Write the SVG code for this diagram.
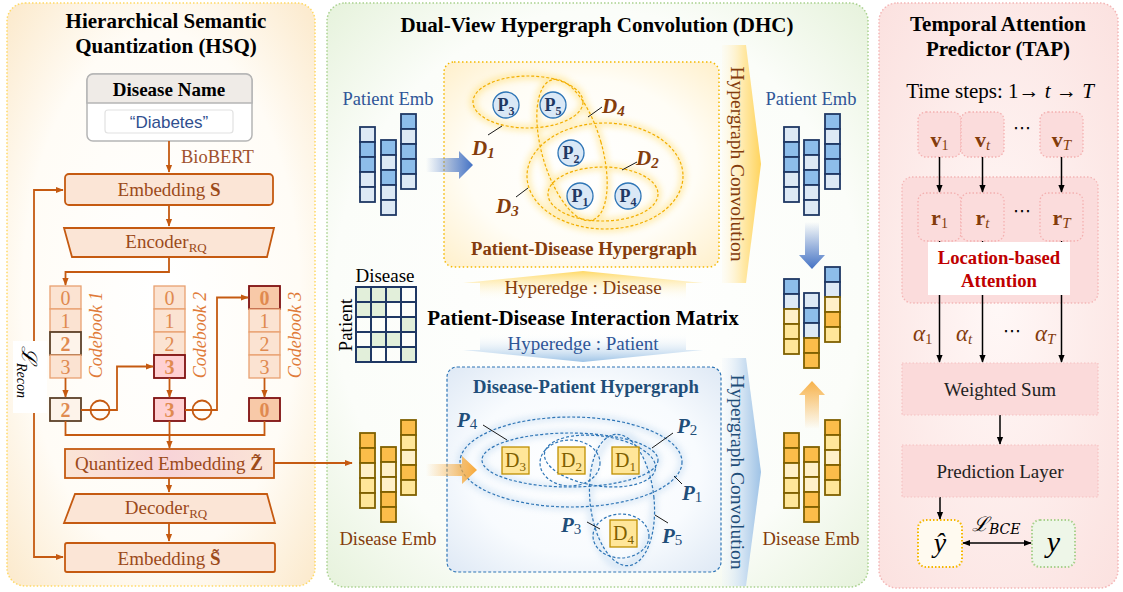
<svg xmlns="http://www.w3.org/2000/svg" width="1123" height="592" viewBox="0 0 1123 592">
<style>
text{font-family:"Liberation Serif","Times New Roman",serif}
.ttl{font-size:21px;font-weight:bold;fill:#000;text-anchor:middle}
.lbl{font-size:19px;fill:#9c4a1a;text-anchor:middle}
.box{fill:#fbe5d6;stroke:#c55a11;stroke-width:1.8}
.cn{fill:none;stroke:#c55a11;stroke-width:1.8}
.cell{fill:#fbe3d2;stroke:#e8a070;stroke-width:1.3}
.dig{font-size:20px;fill:#e08a50;text-anchor:middle}
.cb{font-size:18px;font-style:italic;fill:#e07b39;text-anchor:middle}
.pb{fill:#8dbdea;stroke:#1f3864;stroke-width:1.8}
.pl{fill:#dde9f5;stroke:#1f3864;stroke-width:1.8}
.do{fill:#fbbd4a;stroke:#7f6000;stroke-width:1.8}
.dl{fill:#ffe699;stroke:#7f6000;stroke-width:1.8}
.dv{fill:#fff0c8;stroke:#7f6000;stroke-width:1.8}
.he{fill:none;stroke:#f2ae00;stroke-width:1.2;stroke-dasharray:3 2}
.hb{fill:none;stroke:#2e75b6;stroke-width:1.2;stroke-dasharray:3 2}
.pn{fill:#dae8f6;stroke:#2e75b6;stroke-width:1.3}
.pt{font-size:18px;font-weight:bold;fill:#1f3864;text-anchor:middle}
.dn{fill:#ffe699;stroke:#bf9000;stroke-width:1.3}
.dt{font-size:20px;fill:#7f6000;text-anchor:middle}
.dlab{font-size:21px;font-weight:bold;font-style:italic;fill:#843c0c}
.plab{font-size:21px;font-weight:bold;font-style:italic;fill:#1f4e79}
.ld{stroke:#1a1a1a;stroke-width:1}
.tb{fill:#fbdcdc;stroke:#f4b0b0;stroke-width:1.3;stroke-dasharray:1.5 2}
.bk{fill:none;stroke:#000;stroke-width:1.5}
.emb{font-size:18.5px;text-anchor:middle}
.vt{font-size:22px;font-weight:bold;fill:#843c0c;text-anchor:middle}
.mat{stroke:#1f3864;stroke-width:2}
.dots{font-family:"DejaVu Sans",sans-serif;font-size:18px;text-anchor:middle}
.math{font-family:"DejaVu Serif","Liberation Serif",serif}
</style>
<defs>
  <radialGradient id="gLeft" cx="0.5" cy="0.5" r="0.75">
    <stop offset="0" stop-color="#ffffff"/><stop offset="0.6" stop-color="#fffcf6"/><stop offset="1" stop-color="#fbe6c4"/>
  </radialGradient>
  <radialGradient id="gMid" cx="0.5" cy="0.5" r="0.75">
    <stop offset="0" stop-color="#ffffff"/><stop offset="0.65" stop-color="#fbfdf9"/><stop offset="1" stop-color="#e2f0d6"/>
  </radialGradient>
  <radialGradient id="gRight" cx="0.5" cy="0.5" r="0.75">
    <stop offset="0" stop-color="#fff8f7"/><stop offset="1" stop-color="#fbe0de"/>
  </radialGradient>
  <radialGradient id="gPD" cx="0.5" cy="0.5" r="0.7">
    <stop offset="0" stop-color="#ffffff"/><stop offset="0.6" stop-color="#fffdf6"/><stop offset="1" stop-color="#fff0cc"/>
  </radialGradient>
  <radialGradient id="gDP" cx="0.5" cy="0.5" r="0.7">
    <stop offset="0" stop-color="#ffffff"/><stop offset="0.6" stop-color="#f8fbfe"/><stop offset="1" stop-color="#dfe9f5"/>
  </radialGradient>
  <linearGradient id="gQ" x1="0" x2="1" y1="0" y2="0">
    <stop offset="0" stop-color="#fbe5d6"/><stop offset="0.5" stop-color="#f8d4d8"/><stop offset="1" stop-color="#fbe5d6"/>
  </linearGradient>
  <linearGradient id="gArrB" x1="0" x2="1" y1="0" y2="0">
    <stop offset="0" stop-color="#4472c4" stop-opacity="0"/><stop offset="1" stop-color="#4472c4"/>
  </linearGradient>
  <linearGradient id="gArrO" x1="0" x2="1" y1="0" y2="0">
    <stop offset="0" stop-color="#f7a93a" stop-opacity="0"/><stop offset="1" stop-color="#f7a93a"/>
  </linearGradient>
  <linearGradient id="gDownB" x1="0" x2="0" y1="0" y2="1">
    <stop offset="0" stop-color="#4472c4" stop-opacity="0"/><stop offset="1" stop-color="#4472c4"/>
  </linearGradient>
  <linearGradient id="gUpO" x1="0" x2="0" y1="1" y2="0">
    <stop offset="0" stop-color="#f7b24a" stop-opacity="0"/><stop offset="1" stop-color="#f7b24a"/>
  </linearGradient>
  <linearGradient id="gConvY" x1="0" x2="1" y1="0" y2="0">
    <stop offset="0" stop-color="#fff6dc" stop-opacity="0.2"/><stop offset="0.55" stop-color="#ffe9a8"/><stop offset="1" stop-color="#ffd45e"/>
  </linearGradient>
  <linearGradient id="gConvB" x1="0" x2="1" y1="0" y2="0">
    <stop offset="0" stop-color="#eaf2fa" stop-opacity="0.2"/><stop offset="0.55" stop-color="#cfe1f2"/><stop offset="1" stop-color="#9fc3e6"/>
  </linearGradient>
  <linearGradient id="gHeD" x1="0" x2="0" y1="0" y2="1">
    <stop offset="0" stop-color="#ffd966"/><stop offset="1" stop-color="#ffffff" stop-opacity="0"/>
  </linearGradient>
  <linearGradient id="gHeP" x1="0" x2="0" y1="0" y2="1">
    <stop offset="0" stop-color="#ffffff" stop-opacity="0"/><stop offset="1" stop-color="#9dc3e6"/>
  </linearGradient>
  <filter id="soft" x="-20%" y="-20%" width="140%" height="140%">
    <feGaussianBlur stdDeviation="3"/>
  </filter>
  <marker id="ao" viewBox="0 0 10 10" refX="9" refY="5" markerWidth="8" markerHeight="8" orient="auto" markerUnits="userSpaceOnUse">
    <path d="M0,1 L10,5 L0,9 z" fill="#c55a11"/>
  </marker>
  <marker id="ab" viewBox="0 0 10 10" refX="9" refY="5" markerWidth="8" markerHeight="8" orient="auto" markerUnits="userSpaceOnUse">
    <path d="M0,1 L10,5 L0,9 z" fill="#000"/>
  </marker>
  <marker id="abs" viewBox="0 0 10 10" refX="1" refY="5" markerWidth="8" markerHeight="8" orient="auto" markerUnits="userSpaceOnUse">
    <path d="M10,1 L0,5 L10,9 z" fill="#000"/>
  </marker>
</defs>

<!-- panels -->
<g id="panel-hsq">
  <rect x="7" y="3" width="308" height="583" rx="18" fill="url(#gLeft)" stroke="#ffd966" stroke-width="1.5" stroke-dasharray="1.5 2"/>
  <text class="ttl" x="166" y="28">Hierarchical Semantic</text>
  <text class="ttl" x="166" y="53">Quantization (HSQ)</text>
</g>
<g id="panel-dhc">
  <rect x="327" y="3" width="541" height="584" rx="18" fill="url(#gMid)" stroke="#a9d18e" stroke-width="1.5" stroke-dasharray="1.5 2"/>
  <text class="ttl" x="597" y="32" font-size="22">Dual-View Hypergraph Convolution (DHC)</text>
</g>
<g id="panel-tap">
  <rect x="879" y="3" width="239" height="585" rx="18" fill="url(#gRight)" stroke="#f4b6b6" stroke-width="1.5" stroke-dasharray="1.5 2"/>
  <text class="ttl" x="998" y="31">Temporal Attention</text>
  <text class="ttl" x="998" y="56">Predictor (TAP)</text>
</g>

<!-- HSQ nodes -->
<g id="disease-name">
  <rect x="87" y="74" width="165" height="67" rx="6" fill="#fff" stroke="#b5b5b5" stroke-width="1.5"/>
  <path d="M87,103 V80 a6,6 0 0 1 6,-6 H246 a6,6 0 0 1 6,6 V103 Z" fill="#efebe7" stroke="#b5b5b5" stroke-width="1.5"/>
  <text x="169" y="96" font-size="19" font-weight="bold" text-anchor="middle">Disease Name</text>
  <rect x="105" y="110" width="128" height="23" rx="3" fill="#fff" stroke="#e2e2e2" stroke-width="1.2"/>
  <text x="169" y="127.5" font-size="17" text-anchor="middle" fill="#2f4f8f" style="font-family:'Liberation Sans',Arial,sans-serif">“Diabetes”</text>
</g>
<text x="181" y="163" font-size="18.5" fill="#a0522d">BioBERT</text>
<g id="embedding-s">
  <rect class="box" x="65" y="174" width="208" height="31" rx="4"/>
  <text class="lbl" x="169" y="196">Embedding <tspan font-weight="bold">S</tspan></text>
</g>
<g id="encoder">
  <path class="box" d="M64,228 H274 L267,257 H72 Z"/>
  <text class="lbl" x="166" y="248">Encoder<tspan font-size="13" dy="4">RQ</tspan></text>
</g>
<g id="codebook-1">
  <rect class="cell" x="50" y="286" width="31" height="23"/><text class="dig" x="65.5" y="305">0</text>
  <rect class="cell" x="50" y="309" width="31" height="23"/><text class="dig" x="65.5" y="328">1</text>
  <rect x="50" y="332" width="31" height="23" fill="#fdf3ea" stroke="#5c4128" stroke-width="1.8"/><text class="dig" x="65.5" y="351" font-weight="bold" fill="#6b3a10">2</text>
  <rect class="cell" x="50" y="355" width="31" height="23"/><text class="dig" x="65.5" y="374">3</text>
  <text class="cb" transform="translate(102,335) rotate(-90)">Codebook 1</text>
</g>
<g id="codebook-2">
  <rect class="cell" x="154" y="286" width="31" height="23"/><text class="dig" x="169.5" y="305">0</text>
  <rect class="cell" x="154" y="309" width="31" height="23"/><text class="dig" x="169.5" y="328">1</text>
  <rect class="cell" x="154" y="332" width="31" height="23"/><text class="dig" x="169.5" y="351">2</text>
  <rect x="154" y="355" width="31" height="23" fill="#ffd0d2" stroke="#7f1010" stroke-width="1.8"/><text class="dig" x="169.5" y="374" font-weight="bold" fill="#7f0f0f">3</text>
  <text class="cb" transform="translate(206,335) rotate(-90)">Codebook 2</text>
</g>
<g id="codebook-3">
  <rect x="249" y="286" width="31" height="23" fill="#f8c9a8" stroke="#7f1010" stroke-width="1.8"/><text class="dig" x="264.5" y="305" font-weight="bold" fill="#6b0c0c">0</text>
  <rect class="cell" x="249" y="309" width="31" height="23"/><text class="dig" x="264.5" y="328">1</text>
  <rect class="cell" x="249" y="332" width="31" height="23"/><text class="dig" x="264.5" y="351">2</text>
  <rect class="cell" x="249" y="355" width="31" height="23"/><text class="dig" x="264.5" y="374">3</text>
  <text class="cb" transform="translate(301,335) rotate(-90)">Codebook 3</text>
</g>
<g id="code-1">
  <rect x="50" y="398" width="31" height="23" fill="#fdf3ea" stroke="#5c4128" stroke-width="1.8"/><text class="dig" x="65.5" y="417" font-weight="bold" fill="#6b3a10">2</text>
</g>
<g id="code-2">
  <rect x="154" y="398" width="31" height="23" fill="#ffd0d2" stroke="#7f1010" stroke-width="1.8"/><text class="dig" x="169.5" y="417" font-weight="bold" fill="#7f0f0f">3</text>
</g>
<g id="code-3">
  <rect x="249" y="398" width="31" height="23" fill="#f8c9a8" stroke="#7f1010" stroke-width="1.8"/><text class="dig" x="264.5" y="417" font-weight="bold" fill="#6b0c0c">0</text>
</g>
<g id="quantized">
  <rect x="65" y="449" width="209" height="29" fill="url(#gQ)" stroke="#c55a11" stroke-width="1.8"/>
  <text class="lbl" x="169" y="470" fill="#c0622d">Quantized Embedding <tspan font-weight="bold">Z&#x303;</tspan></text>
</g>
<g id="decoder">
  <path class="box" d="M75,494 H267 L275,523 H64 Z"/>
  <text class="lbl" x="166" y="514">Decoder<tspan font-size="13" dy="4">RQ</tspan></text>
</g>
<g id="embedding-s-hat">
  <rect class="box" x="65" y="543" width="210" height="29" rx="2"/>
  <text class="lbl" x="169" y="565">Embedding <tspan font-weight="bold">S&#x303;</tspan></text>
</g>

<!-- HSQ connectors -->
<g id="hsq-connectors">
  <path class="cn" d="M169,141 V172" marker-end="url(#ao)"/>
  <path class="cn" d="M169,205 V226" marker-end="url(#ao)"/>
  <path class="cn" d="M169,257 V272 H65.5 V285" marker-end="url(#ao)"/>
  <path class="cn" d="M65.5,378 V397" marker-end="url(#ao)"/>
  <path class="cn" d="M169.5,378 V397" marker-end="url(#ao)"/>
  <path class="cn" d="M264.5,378 V397" marker-end="url(#ao)"/>
  <path class="cn" d="M81,410 H117 V366.5 H153" marker-end="url(#ao)"/>
  <path class="cn" d="M185,410 H217 V297.5 H248" marker-end="url(#ao)"/>
  <circle class="cn" cx="100" cy="410" r="9.5"/>
  <circle class="cn" cx="202" cy="410" r="9.5"/>
  <path class="cn" d="M65.5,421 V435 H264.5 V421"/>
  <path class="cn" d="M169.5,421 V448" marker-end="url(#ao)"/>
  <path class="cn" d="M169,478 V492" marker-end="url(#ao)"/>
  <path class="cn" d="M169,523 V541" marker-end="url(#ao)"/>
  <path class="cn" d="M34,375 V190 H63" marker-end="url(#ao)"/>
  <path class="cn" d="M34,375 V557 H63" marker-end="url(#ao)"/>
  <path class="cn" d="M274,463 H352" marker-end="url(#ao)"/>
</g>
<g id="recon-loss">
  <rect x="13" y="341" width="34" height="72" fill="#fff"/>
  <text class="math" transform="translate(22,346) rotate(90)" font-size="21" font-style="italic">ℒ<tspan font-size="14" dy="5" style="font-family:'Liberation Serif',serif">Recon</tspan></text>
</g>

<!-- DHC: hypergraph convolution bands -->
<g id="conv-top">
  <path d="M722,45 H746 L761,164 L746,283 H722 Z" fill="url(#gConvY)"/>
  <text transform="translate(731,164) rotate(90)" font-size="19.5" fill="#843c0c" text-anchor="middle">Hypergraph  Convolution</text>
</g>
<g id="conv-bottom">
  <path d="M722,358 H746 L761,472 L746,586 H722 Z" fill="url(#gConvB)"/>
  <text transform="translate(731,472) rotate(90)" font-size="19.5" fill="#1f4e79" text-anchor="middle">Hypergraph  Convolution</text>
</g>

<!-- Patient-Disease hypergraph -->
<g id="pd-hypergraph">
  <rect x="444" y="62" width="275" height="205" rx="10" fill="url(#gPD)" stroke="#f5b800" stroke-width="1.5" stroke-dasharray="1.5 2.5"/>
  <g filter="url(#soft)" opacity="0.45" fill="none" stroke="#ffd54f" stroke-width="6">
    <ellipse cx="528" cy="102" rx="55" ry="26"/>
    <ellipse cx="572" cy="150" rx="30" ry="73" transform="rotate(-16 572 150)"/>
    <ellipse cx="605" cy="176" rx="78" ry="53"/>
    <ellipse cx="603" cy="194" rx="55" ry="27"/>
  </g>
  <ellipse class="he" cx="528" cy="102" rx="55" ry="26"/>
  <ellipse class="he" cx="572" cy="150" rx="30" ry="73" transform="rotate(-16 572 150)"/>
  <ellipse class="he" cx="605" cy="176" rx="78" ry="53"/>
  <ellipse class="he" cx="603" cy="194" rx="55" ry="27"/>
  <g id="p3"><circle class="pn" cx="506" cy="105" r="13"/><text class="pt" x="506" y="111">P<tspan font-size="12" dy="4">3</tspan></text></g>
  <g id="p5"><circle class="pn" cx="553" cy="105" r="13"/><text class="pt" x="553" y="111">P<tspan font-size="12" dy="4">5</tspan></text></g>
  <g id="p2"><circle class="pn" cx="571" cy="153" r="13"/><text class="pt" x="571" y="159">P<tspan font-size="12" dy="4">2</tspan></text></g>
  <g id="p1"><circle class="pn" cx="580" cy="196" r="13"/><text class="pt" x="580" y="202">P<tspan font-size="12" dy="4">1</tspan></text></g>
  <g id="p4"><circle class="pn" cx="628" cy="196" r="13"/><text class="pt" x="628" y="202">P<tspan font-size="12" dy="4">4</tspan></text></g>
  <line class="ld" x1="488" y1="135" x2="502" y2="126"/>
  <line class="ld" x1="588" y1="117" x2="602" y2="107"/>
  <line class="ld" x1="622" y1="170" x2="637" y2="162"/>
  <line class="ld" x1="516" y1="197" x2="528" y2="188"/>
  <text class="dlab" x="472" y="155">D<tspan font-size="15" dy="3">1</tspan></text>
  <text class="dlab" x="602" y="113">D<tspan font-size="15" dy="3">4</tspan></text>
  <text class="dlab" x="636" y="165">D<tspan font-size="15" dy="3">2</tspan></text>
  <text class="dlab" x="496" y="213">D<tspan font-size="15" dy="3">3</tspan></text>
  <text x="584" y="255" font-size="18.7" font-weight="bold" fill="#843c0c" text-anchor="middle">Patient-Disease Hypergraph</text>
</g>

<!-- Disease-Patient hypergraph -->
<g id="dp-hypergraph">
  <rect x="447" y="367" width="274" height="205" rx="10" fill="url(#gDP)" stroke="#2e75b6" stroke-width="1.2" stroke-dasharray="3 2"/>
  <text x="586" y="393" font-size="18.7" font-weight="bold" fill="#1f4e79" text-anchor="middle">Disease-Patient Hypergraph</text>
  <g filter="url(#soft)" opacity="0.35" fill="none" stroke="#9dc3e6" stroke-width="6">
    <ellipse cx="571" cy="462" rx="111" ry="45"/>
    <ellipse cx="570" cy="460" rx="88" ry="27"/>
    <ellipse cx="622" cy="500" rx="32" ry="66"/>
  </g>
  <ellipse class="hb" cx="571" cy="462" rx="111" ry="45"/>
  <ellipse class="hb" cx="570" cy="460" rx="88" ry="27"/>
  <ellipse class="hb" cx="570" cy="463" rx="30" ry="23"/>
  <ellipse class="hb" cx="600" cy="461" rx="56" ry="25" transform="rotate(8 600 461)"/>
  <ellipse class="hb" cx="622" cy="500" rx="32" ry="66" transform="rotate(-6 622 500)"/>
  <ellipse class="hb" cx="621" cy="536" rx="28" ry="22"/>
  <g id="d3"><rect class="dn" x="502" y="447" width="27" height="27"/><text class="dt" x="515.5" y="467">D<tspan font-size="13" dy="4">3</tspan></text></g>
  <g id="d2"><rect class="dn" x="558" y="447" width="27" height="27"/><text class="dt" x="571.5" y="467">D<tspan font-size="13" dy="4">2</tspan></text></g>
  <g id="d1"><rect class="dn" x="612" y="447" width="27" height="27"/><text class="dt" x="625.5" y="467">D<tspan font-size="13" dy="4">1</tspan></text></g>
  <g id="d4"><rect class="dn" x="610" y="520" width="27" height="27"/><text class="dt" x="623.5" y="540">D<tspan font-size="13" dy="4">4</tspan></text></g>
  <line class="ld" x1="483" y1="425" x2="507" y2="440"/>
  <line class="ld" x1="673" y1="433" x2="652" y2="448"/>
  <line class="ld" x1="682" y1="484" x2="674" y2="476"/>
  <line class="ld" x1="587" y1="522" x2="600" y2="529"/>
  <line class="ld" x1="668" y1="523" x2="655" y2="515"/>
  <text class="plab" x="457" y="427">P<tspan font-size="15" font-weight="normal" font-style="normal" dy="2">4</tspan></text>
  <text class="plab" x="677" y="433">P<tspan font-size="15" font-weight="normal" font-style="normal" dy="2">2</tspan></text>
  <text class="plab" x="682" y="500">P<tspan font-size="15" font-weight="normal" font-style="normal" dy="2">1</tspan></text>
  <text class="plab" x="561" y="532">P<tspan font-size="15" font-weight="normal" font-style="normal" dy="2">3</tspan></text>
  <text class="plab" x="662" y="543">P<tspan font-size="15" font-weight="normal" font-style="normal" dy="2">5</tspan></text>
</g>

<!-- interaction matrix -->
<g id="interaction-matrix">
  <text x="385" y="282" font-size="19" text-anchor="middle">Disease</text>
  <text transform="translate(352,325) rotate(-90)" font-size="19" text-anchor="middle">Patient</text>
  <g fill="#e2efda">
    <rect x="356" y="287" width="45" height="15"/>
    <rect x="356" y="302" width="30" height="15"/>
    <rect x="401" y="317" width="15" height="15"/>
    <rect x="371" y="332" width="30" height="15"/>
    <rect x="356" y="347" width="15" height="15"/>
    <rect x="401" y="347" width="15" height="15"/>
  </g>
  <g class="mat" fill="none">
    <rect x="356" y="287" width="60" height="75"/>
    <path d="M371,287 V362 M386,287 V362 M401,287 V362 M356,302 H416 M356,317 H416 M356,332 H416 M356,347 H416"/>
  </g>
</g>
<g id="hyperedge-disease">
  <path d="M463,283 L583,271 L703,283 H686 V301 H480 V283 Z" fill="url(#gHeD)"/>
  <text x="583" y="294" font-size="19" fill="#843c0c" text-anchor="middle">Hyperedge : Disease</text>
</g>
<text x="583" y="325" font-size="21" font-weight="bold" text-anchor="middle">Patient-Disease Interaction Matrix</text>
<g id="hyperedge-patient">
  <path d="M480,333 H686 V350 H703 L583,362 L463,350 H480 Z" fill="url(#gHeP)"/>
  <text x="583" y="350" font-size="19" fill="#2e5597" text-anchor="middle">Hyperedge : Patient</text>
</g>

<!-- embeddings -->
<g id="patient-emb-in">
  <text class="emb" x="388" y="105" fill="#2e5597">Patient Emb</text>
  <rect class="pl" x="360" y="127" width="15" height="15"/><rect class="pb" x="360" y="142" width="15" height="15"/><rect class="pb" x="360" y="157" width="15" height="15"/><rect class="pl" x="360" y="172" width="15" height="15"/><rect class="pl" x="360" y="187" width="15" height="15"/>
  <rect class="pb" x="381" y="140" width="15" height="15"/><rect class="pl" x="381" y="155" width="15" height="15"/><rect class="pb" x="381" y="170" width="15" height="15"/><rect class="pl" x="381" y="185" width="15" height="15"/><rect class="pl" x="381" y="200" width="15" height="15"/>
  <rect class="pb" x="401" y="114" width="15" height="15"/><rect class="pl" x="401" y="129" width="15" height="15"/><rect class="pb" x="401" y="144" width="15" height="15"/><rect class="pb" x="401" y="159" width="15" height="15"/><rect class="pl" x="401" y="174" width="15" height="15"/>
</g>
<g id="disease-emb-in">
  <rect class="do" x="360" y="433" width="15" height="15"/><rect class="do" x="360" y="448" width="15" height="15"/><rect class="dv" x="360" y="463" width="15" height="15"/><rect class="dl" x="360" y="478" width="15" height="15"/><rect class="dl" x="360" y="493" width="15" height="15"/>
  <rect class="do" x="381" y="447" width="15" height="15"/><rect class="dv" x="381" y="462" width="15" height="15"/><rect class="dv" x="381" y="477" width="15" height="15"/><rect class="do" x="381" y="492" width="15" height="15"/><rect class="do" x="381" y="507" width="15" height="15"/>
  <rect class="do" x="401" y="420" width="15" height="15"/><rect class="dl" x="401" y="435" width="15" height="15"/><rect class="dv" x="401" y="450" width="15" height="15"/><rect class="do" x="401" y="465" width="15" height="15"/><rect class="dl" x="401" y="480" width="15" height="15"/>
  <text class="emb" x="388" y="545" fill="#843c0c">Disease Emb</text>
</g>
<g id="patient-emb-out">
  <text class="emb" x="811" y="105" fill="#2e5597">Patient Emb</text>
  <rect class="pl" x="784" y="127" width="15" height="15"/><rect class="pb" x="784" y="142" width="15" height="15"/><rect class="pb" x="784" y="157" width="15" height="15"/><rect class="pl" x="784" y="172" width="15" height="15"/><rect class="pl" x="784" y="187" width="15" height="15"/>
  <rect class="pb" x="804" y="140" width="15" height="15"/><rect class="pl" x="804" y="155" width="15" height="15"/><rect class="pb" x="804" y="170" width="15" height="15"/><rect class="pl" x="804" y="185" width="15" height="15"/><rect class="pl" x="804" y="200" width="15" height="15"/>
  <rect class="pb" x="825" y="114" width="15" height="15"/><rect class="pl" x="825" y="129" width="15" height="15"/><rect class="pb" x="825" y="144" width="15" height="15"/><rect class="pb" x="825" y="159" width="15" height="15"/><rect class="pl" x="825" y="174" width="15" height="15"/>
</g>
<g id="fused-emb">
  <rect class="pb" x="784" y="279" width="15" height="15"/><rect class="pl" x="784" y="294" width="15" height="15"/><rect class="dv" x="784" y="309" width="15" height="15"/><rect class="dl" x="784" y="324" width="15" height="15"/><rect class="dl" x="784" y="339" width="15" height="15"/>
  <rect class="pl" x="804" y="293" width="15" height="15"/><rect class="pb" x="804" y="308" width="15" height="15"/><rect class="pl" x="804" y="323" width="15" height="15"/><rect class="do" x="804" y="338" width="15" height="15"/><rect class="do" x="804" y="353" width="15" height="15"/>
  <rect class="pb" x="825" y="267" width="15" height="15"/><rect class="pl" x="825" y="282" width="15" height="15"/><rect class="dv" x="825" y="297" width="15" height="15"/><rect class="do" x="825" y="312" width="15" height="15"/><rect class="dl" x="825" y="327" width="15" height="15"/>
</g>
<g id="disease-emb-out">
  <rect class="do" x="784" y="433" width="15" height="15"/><rect class="do" x="784" y="448" width="15" height="15"/><rect class="dv" x="784" y="463" width="15" height="15"/><rect class="dl" x="784" y="478" width="15" height="15"/><rect class="dl" x="784" y="493" width="15" height="15"/>
  <rect class="do" x="804" y="447" width="15" height="15"/><rect class="dv" x="804" y="462" width="15" height="15"/><rect class="dv" x="804" y="477" width="15" height="15"/><rect class="do" x="804" y="492" width="15" height="15"/><rect class="do" x="804" y="507" width="15" height="15"/>
  <rect class="do" x="825" y="420" width="15" height="15"/><rect class="dl" x="825" y="435" width="15" height="15"/><rect class="dv" x="825" y="450" width="15" height="15"/><rect class="do" x="825" y="465" width="15" height="15"/><rect class="dl" x="825" y="480" width="15" height="15"/>
  <text class="emb" x="811" y="545" fill="#843c0c">Disease Emb</text>
</g>

<!-- DHC flow arrows -->
<g id="dhc-connectors">
  <path d="M426,158 H459 V151 L473,165 L459,179 V172 H426 Z" fill="url(#gArrB)"/>
  <path d="M426,464 H462 V456 L477,470 L462,484 V476 H426 Z" fill="url(#gArrO)"/>
  <path d="M805,222 V255 H799 L812,269 L825,255 H819 V222 Z" fill="url(#gDownB)"/>
  <path d="M805,429 V395 H799 L812,381 L825,395 H819 V429 Z" fill="url(#gUpO)"/>
</g>

<!-- TAP nodes -->
<text x="1000" y="98" font-size="21" text-anchor="middle">Time steps: 1→ <tspan font-style="italic">t</tspan> → <tspan font-style="italic">T</tspan></text>
<g id="v-1"><rect class="tb" x="918" y="112" width="43" height="45" rx="8"/><text class="vt" x="939.5" y="147">v<tspan font-size="14" font-weight="normal" dy="3">1</tspan></text></g>
<g id="v-t"><rect class="tb" x="961" y="112" width="43" height="45" rx="8"/><text class="vt" x="982.5" y="147">v<tspan font-size="15" font-weight="normal" font-style="italic" dy="3">t</tspan></text></g>
<text class="dots" x="1022" y="134">⋯</text>
<g id="v-T"><rect class="tb" x="1040" y="112" width="43" height="45" rx="8"/><text class="vt" x="1061.5" y="147">v<tspan font-size="15" font-weight="normal" font-style="italic" dy="3">T</tspan></text></g>

<g id="location-attention">
  <rect x="902" y="177" width="196" height="126" rx="10" fill="#fbdcdc" stroke="#f4b6b6" stroke-width="1.3" stroke-dasharray="1.5 2"/>
</g>
<g id="tap-connectors">
  <path class="bk" d="M939.5,157 V192" marker-end="url(#ab)"/>
  <path class="bk" d="M982.5,157 V192" marker-end="url(#ab)"/>
  <path class="bk" d="M1061.5,157 V192" marker-end="url(#ab)"/>
  <path class="bk" d="M939.5,241 V362" marker-end="url(#ab)"/>
  <path class="bk" d="M982.5,241 V362" marker-end="url(#ab)"/>
  <path class="bk" d="M1061.5,241 V362" marker-end="url(#ab)"/>
  <path class="bk" d="M1000,415 V444" marker-end="url(#ab)"/>
  <path class="bk" d="M940,497 V519" marker-end="url(#ab)"/>
  <path class="bk" d="M963,543 H1031" marker-start="url(#abs)" marker-end="url(#ab)"/>
</g>
<g id="attention-label">
  <rect x="928" y="242" width="142" height="53" fill="#fff"/>
  <text x="999" y="264" font-size="18.7" font-weight="bold" fill="#c00000" text-anchor="middle">Location-based</text>
  <text x="999" y="287" font-size="18.7" font-weight="bold" fill="#c00000" text-anchor="middle">Attention</text>
</g>
<g id="r-1"><rect class="tb" x="918" y="193" width="43" height="48" rx="8"/><text class="vt" x="939.5" y="225">r<tspan font-size="14" font-weight="normal" dy="3">1</tspan></text></g>
<g id="r-t"><rect class="tb" x="961" y="193" width="43" height="48" rx="8"/><text class="vt" x="982.5" y="225">r<tspan font-size="15" font-weight="normal" font-style="italic" dy="3">t</tspan></text></g>
<text class="dots" x="1022" y="217">⋯</text>
<g id="r-T"><rect class="tb" x="1040" y="193" width="43" height="48" rx="8"/><text class="vt" x="1061.5" y="225">r<tspan font-size="15" font-weight="normal" font-style="italic" dy="3">T</tspan></text></g>

<g id="alphas" class="math" font-size="23" font-style="italic" fill="#843c0c">
  <text x="913" y="341">α<tspan font-size="15" font-style="normal" dy="3">1</tspan></text>
  <text x="956" y="341">α<tspan font-size="15" dy="3">t</tspan></text>
  <text x="1035" y="341">α<tspan font-size="15" dy="3">T</tspan></text>
</g>
<text class="dots" x="1012" y="337">⋯</text>

<g id="weighted-sum">
  <rect x="902" y="363" width="196" height="52" fill="#fbdada" stroke="#f6c2c2" stroke-width="1.2" stroke-dasharray="1.5 2"/>
  <text x="1000" y="396" font-size="19" fill="#222" text-anchor="middle">Weighted Sum</text>
</g>
<g id="prediction-layer">
  <rect x="902" y="445" width="196" height="52" fill="#fbdada" stroke="#f6c2c2" stroke-width="1.2" stroke-dasharray="1.5 2"/>
  <text x="1000" y="478" font-size="19" fill="#222" text-anchor="middle">Prediction Layer</text>
</g>
<g id="y-hat">
  <rect x="918" y="520" width="44" height="47" rx="8" fill="#fffaf0" stroke="#f5b800" stroke-width="2" stroke-dasharray="1.5 2"/>
  <text x="940" y="552" font-size="28" font-style="italic" text-anchor="middle">ŷ</text>
</g>
<g id="y-true">
  <rect x="1032" y="520" width="43" height="47" rx="8" fill="#eef6e8" stroke="#a9d18e" stroke-width="2" stroke-dasharray="1.5 2"/>
  <text x="1053.5" y="552" font-size="30" font-style="italic" text-anchor="middle">y</text>
</g>
<text class="math" x="972" y="531" font-size="20" font-style="italic">ℒ<tspan font-size="14" dy="3">BCE</tspan></text>
</svg>
